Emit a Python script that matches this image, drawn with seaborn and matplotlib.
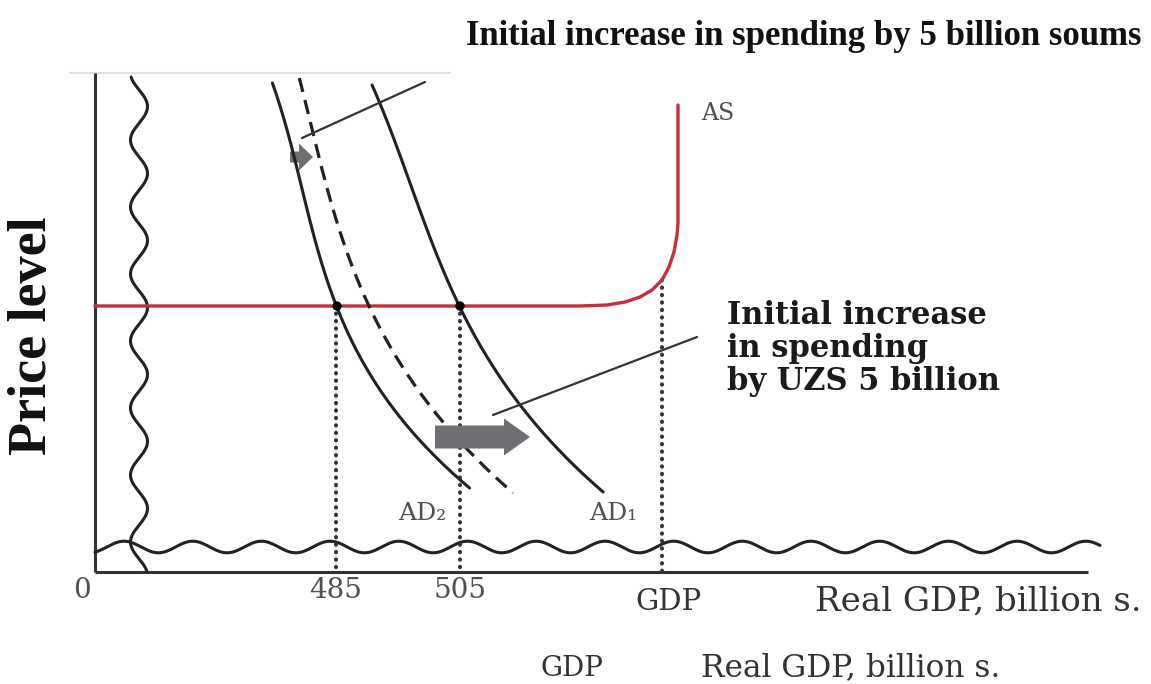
import numpy as np
import matplotlib
matplotlib.use("Agg")
import matplotlib.pyplot as plt
from matplotlib.patches import FancyArrow
import seaborn as sns

sns.set_theme(style="white")
plt.rcParams['font.family'] = ['DejaVu Serif', 'DejaVu Sans']

# ---- diagram data (diagram units) ----
ad2_x = [273, 293, 313, 337, 373, 410, 470]
ad2_y = [83, 160, 227, 306, 380, 430, 488]
ad_mid_x = [300, 313, 327, 347, 370, 410, 440, 477, 513]
ad_mid_y = [78, 137, 193, 247, 306, 380, 420, 458, 493]
ad1_x = [372, 380, 413, 460, 503, 527, 567, 603]
ad1_y = [85, 103, 193, 306, 380, 417, 457, 492]
as_x = [95, 580, 607, 625, 640, 652, 662, 669, 674, 677, 678, 678]
as_y = [306, 306, 305, 302, 297, 290, 280, 267, 252, 235, 223, 105]
eq_x = [337, 460]
eq_y = [306, 306]
guide_x = [336, 460, 662]
guide_top = [306, 306, 280]
tick_labels = ["0", "485", "505"]
tick_pos = [82, 336, 460]

AXIS_Y = 572
AXIS_X = 95

fig = plt.figure(figsize=(11.51, 6.84), dpi=100)
ax = fig.add_axes([0, 0, 1, 1])
ax.set_xlim(0, 1151)
ax.set_ylim(684, 0)
ax.axis("off")

dark = "#222222"
grey_txt = "#505050"
arrow_grey = "#6f7073"
red = "#c4303a"

# faint crop line at top
ax.plot([70, 450], [73, 73], color="#e2e2e2", lw=1.5)

# axes
ax.plot([AXIS_X, AXIS_X], [73, AXIS_Y], color="#333333", lw=2.2, solid_capstyle="butt")
ax.plot([AXIS_X, 1088], [AXIS_Y, AXIS_Y], color="#333333", lw=2.2, solid_capstyle="butt")

# axis-break squiggles
wy = np.linspace(77, 572, 600)
wx = 139 - 8.5 * np.cos(2 * np.pi * (wy - 140) / 67.0)
ax.plot(wx, wy, color=dark, lw=2.2)
hx = np.linspace(95, 1100, 900)
hy = 547 - 5.8 * np.cos(2 * np.pi * (hx - 124) / 68.7)
ax.plot(hx, hy, color=dark, lw=2.2)

# dotted guides
for gx, gt in zip(guide_x, guide_top):
    ax.plot([gx, gx], [gt, AXIS_Y], color="#333333", lw=2.9,
            linestyle=(0, (0.1, 1.75)), dash_capstyle="round")

# AS curve
sns.lineplot(x=as_x, y=as_y, sort=False, estimator=None, ax=ax, color=red, lw=2.4)

def smooth(xs, ys, n=200):
    c = np.polyfit(ys, xs, 3)
    yy = np.linspace(min(ys), max(ys), n)
    return np.polyval(c, yy), yy

sx, sy = smooth(ad2_x, ad2_y)
sns.lineplot(x=sx, y=sy, sort=False, estimator=None, ax=ax, color=dark, lw=2.2)
sx, sy = smooth(ad1_x, ad1_y)
sns.lineplot(x=sx, y=sy, sort=False, estimator=None, ax=ax, color=dark, lw=2.2)
sx, sy = smooth(ad_mid_x, ad_mid_y)
sns.lineplot(x=sx, y=sy, sort=False, estimator=None, ax=ax, color=dark, lw=2.3)
ax.lines[-1].set_linestyle((0, (4.5, 2.6)))

# equilibrium points
sns.scatterplot(x=eq_x, y=eq_y, ax=ax, color="black", s=45, edgecolor="none", zorder=5)

# arrows
ax.add_patch(FancyArrow(290, 157, 23, 0, width=11, head_width=27, head_length=14,
                        length_includes_head=True, color=arrow_grey, lw=0))
ax.add_patch(FancyArrow(435, 437, 95, 0, width=23, head_width=37, head_length=26,
                        length_includes_head=True, color=arrow_grey, lw=0, zorder=4))

# leader lines
ax.plot([425, 302], [82, 138], color="#333333", lw=1.6)
ax.plot([493, 697], [415, 337], color="#333333", lw=1.6)

# texts
ax.text(804, 45, "Initial increase in spending by 5 billion soums",
        family="Liberation Serif", fontweight="bold", fontsize=25,
        color="#111111", ha="center", va="baseline")
ax.text(33, 336, "Price level", family="Liberation Serif", fontweight="bold",
        fontsize=39, color="#111111", rotation=90, ha="center", va="center")
for i, line in enumerate(["Initial increase", "in spending", "by UZS 5 billion"]):
    ax.text(727, 324 + 33 * i, line, fontweight="bold", fontsize=22,
            color="#1a1a1a", ha="left", va="baseline")

ax.text(718, 113, "AS", fontsize=17, color=grey_txt, ha="center", va="center")
ax.text(422, 513, "AD₂", fontsize=18, color=grey_txt, ha="center", va="center")
ax.text(613, 514, "AD₁", fontsize=18, color=grey_txt, ha="center", va="center")

for lab, p in zip(tick_labels, tick_pos):
    ax.text(p, 590, lab, fontsize=20, color=grey_txt, ha="center", va="center")

ax.text(668, 602, "GDP", fontsize=21, color="#333333", ha="center", va="center")
ax.text(978, 602, "Real GDP, billion s.", fontsize=24.5, color="#333333", ha="center", va="center")
ax.text(572, 668, "GDP", fontsize=20, color="#333333", ha="center", va="center")
ax.text(851, 668, "Real GDP, billion s.", fontsize=22.5, color="#333333", ha="center", va="center")

fig.savefig("out.png", dpi=100)
